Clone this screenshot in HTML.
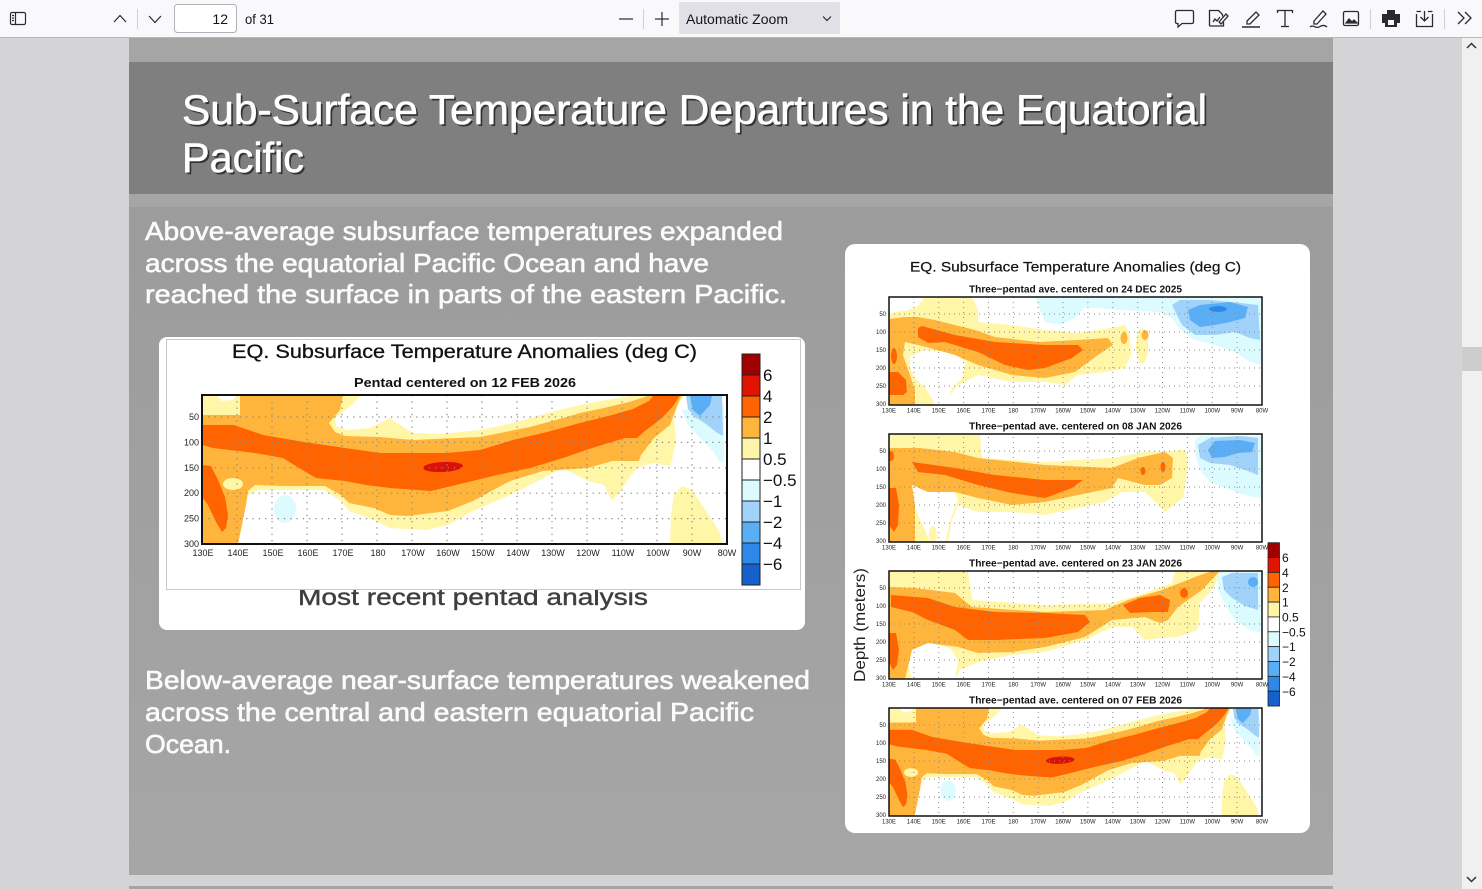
<!DOCTYPE html>
<html><head><meta charset="utf-8"><style>html,body{margin:0;padding:0;background:#d4d4d7;}svg{display:block}</style></head>
<body>
<svg width="1482" height="889" viewBox="0 0 1482 889" xmlns="http://www.w3.org/2000/svg" xmlns:xlink="http://www.w3.org/1999/xlink" font-family="Liberation Sans, sans-serif">
<defs>
<linearGradient id="body" x1="0" y1="0" x2="0" y2="1"><stop offset="0" stop-color="#999999"/><stop offset="1" stop-color="#a6a6a6"/></linearGradient>
<clipPath id="cM"><rect x="202" y="395" width="525" height="149"/></clipPath>
<clipPath id="c1"><rect x="889" y="297" width="373" height="108"/></clipPath>
<clipPath id="c2"><rect x="889" y="434" width="373" height="108"/></clipPath>
<clipPath id="c3"><rect x="889" y="571" width="373" height="108"/></clipPath>
<clipPath id="c4"><rect x="889" y="708" width="373" height="108"/></clipPath>
<g id="mf">
<path fill="#fff6a8" d="M202,395 L361,395 L352,405 L335,418 L336,426 L347,430 L370,428 L390,418 L400,425 L413,433 L440,434 L480,430 L513,423 L540,415 L563,409 L590,403 L612,399 L630,396 L637,395 L684,395 L678,405 L674,418 L676,440 L672,460 L670,466 L653,463 L637,468 L629,478 L620,492 L612,501 L604,485 L588,481 L563,468 L538,481 L510,495 L473,511 L448,525 L427,530 L390,528 L374,520 L349,511 L341,501 L324,490 L259,490 L248,495 L243,515 L238,544 L202,544 Z"/>
<path fill="#fff6a8" d="M670,544 L671,515 L674,495 L682,486 L692,490 L702,505 L712,520 L720,533 L722,544 Z"/>
<path fill="#ffb43c" d="M202,415 L240,415 L240,395 L343,395 L340,410 L329,423 L335,432 L345,436 L380,437 L413,440 L480,437 L530,427 L563,418 L580,413 L604,408 L629,402 L645,397 L649,395 L682,395 L679,401 L670,425 L654,438 L641,455 L639,461 L612,461 L588,468 L543,471 L510,481 L473,501 L448,511 L407,516 L390,515 L374,508 L349,503 L341,495 L325,486 L283,486 L255,485 L248,491 L246,505 L242,525 L238,544 L202,544 Z"/>
<ellipse cx="233" cy="484" rx="10" ry="6" fill="#fff6a8"/>
<path fill="#ff6400" d="M202,425 L234,425 L263,435 L304,442 L345,448 L380,453 L447,453 L480,450 L513,440 L547,432 L580,423 L612,415 L633,409 L649,401 L654,395 L680,395 L674,405 L662,418 L645,431 L637,438 L625,438 L592,448 L563,458 L530,468 L497,475 L456,485 L431,491 L390,488 L366,485 L345,481 L316,478 L304,471 L283,458 L255,453 L230,450 L213,448 L202,445 Z"/>
<path fill="#ff6400" d="M202,465 L211,466 L218,480 L225,497 L228,515 L226,528 L222,532 L216,522 L208,505 L202,497 Z"/>
<ellipse cx="443" cy="467" rx="20" ry="5" fill="#d81208" transform="rotate(-3 443 467)"/>
<path fill="#fff" d="M216,395 L238,395 L232,400 L222,401 Z"/>
<ellipse cx="285" cy="509" rx="11" ry="14" fill="#dcfbff"/>
<path fill="#dcfbff" d="M682,410 L688,425 L700,438 L712,450 L720,462 L724,462 L724,405 Z"/>
<path fill="#a0d2fa" d="M686,396 L722,396 L723,436 L716,432 L706,424 L695,417 L688,409 Z"/>
<path fill="#5aaef5" d="M690,396 L712,396 L710,405 L700,416 L693,410 Z"/>
</g>
</defs>

<rect width="1482" height="889" fill="#d4d4d7"/>

<rect width="1482" height="37" fill="#f9f9fb"/>
<rect y="37" width="1482" height="1" fill="#b8b8bc"/>
<g fill="none" stroke="#2b2a33" stroke-width="1.2">
<rect x="10.5" y="12.5" width="15" height="12" rx="1.5"/>
<line x1="15.5" y1="12.5" x2="15.5" y2="24.5"/>
<line x1="12" y1="15.5" x2="14" y2="15.5"/><line x1="12" y1="18" x2="14" y2="18"/><line x1="12" y1="20.5" x2="14" y2="20.5"/>
<polyline points="114,22 120,15.5 126,22"/>
<polyline points="149,16 155,22.5 161,16"/>
<line x1="619" y1="19" x2="633" y2="19"/>
<line x1="655" y1="19" x2="669" y2="19"/><line x1="662" y1="12" x2="662" y2="26"/>
</g>
<line x1="137.5" y1="9" x2="137.5" y2="29" stroke="#cfcfd8"/>
<line x1="643.5" y1="9" x2="643.5" y2="29" stroke="#cfcfd8"/>
<rect x="174.5" y="4.5" width="62" height="28" rx="3" fill="#fff" stroke="#b1b1b9"/>
<text x="228" y="24" font-size="14" fill="#15141a" text-anchor="end">12</text>
<text x="245" y="24" font-size="14" fill="#15141a" textLength="29" lengthAdjust="spacingAndGlyphs">of 31</text>
<rect x="679" y="2" width="161" height="32" rx="2" fill="#e0e0e6"/>
<text x="686" y="24" font-size="14" fill="#15141a" textLength="102" lengthAdjust="spacingAndGlyphs">Automatic Zoom</text>
<polyline points="823,16.5 827,20.5 831,16.5" fill="none" stroke="#2b2a33" stroke-width="1.2"/>
<g fill="none" stroke="#2b2a33" stroke-width="1.3">
<path d="M1177,10.5 h15 a1.5,1.5 0 0 1 1.5,1.5 v10 a1.5,1.5 0 0 1 -1.5,1.5 h-10 l-4,3.5 v-3.5 h-1 a1.5,1.5 0 0 1 -1.5,-1.5 v-10 a1.5,1.5 0 0 1 1.5,-1.5 z"/>
<path d="M1209.5,26 v-15.5 h9 l4,4 v2"/><path d="M1209.5,26 h14 v-4"/>
<path d="M1213,22 l2,-3 l2,2 l3,-4"/><path d="M1219,22 l7,-8 l2,2 l-7,8 z"/>
<path d="M1247,21 l9,-9 l3,3 l-9,9 h-3 z"/>
<line x1="1242" y1="27" x2="1260" y2="27" stroke-width="1.6"/>
<path d="M1277.5,13 v-2.5 h15 v2.5"/><line x1="1285" y1="10.5" x2="1285" y2="26.5"/><line x1="1281" y1="26.5" x2="1289" y2="26.5"/>
<path d="M1314,21 l9,-10 l3,3 l-9,10 h-3 z"/><path d="M1310,27 c3,-3 6,2 9,0 s6,-2 8,0"/>
<rect x="1343.5" y="11.5" width="15" height="14" rx="1.5"/>
<path d="M1346,23 l3,-4 l3,3 l2,-2 l3,3 z" fill="#2b2a33"/>
<path d="M1416.5,14 v12.5 h16 v-12.5"/><path d="M1421,11.5 h-4.5 M1428,11.5 h4.5"/>
<path d="M1424.5,11 v10 M1420.5,17 l4,4 l4,-4"/>
<polyline points="1458,12 1464,18 1458,24"/><polyline points="1465,12 1471,18 1465,24"/>
</g>
<path d="M1387,10 h8 v4 h5 v9 h-3 v4 h-12 v-4 h-3 v-9 h5 z" fill="#2b2a33"/>
<rect x="1388" y="20" width="6" height="5" fill="#f9f9fb"/>
<line x1="1370.5" y1="9" x2="1370.5" y2="29" stroke="#cfcfd8"/>
<line x1="1444.5" y1="9" x2="1444.5" y2="29" stroke="#cfcfd8"/>

<rect x="1462" y="38" width="20" height="851" fill="#f0f0f0"/>
<rect x="1462" y="347" width="20" height="24" fill="#cdcdcd"/>
<polyline points="1467,48 1471.5,43.5 1476,48" fill="none" stroke="#333" stroke-width="1.5"/>
<polyline points="1467,877 1471.5,881.5 1476,877" fill="none" stroke="#333" stroke-width="1.5"/>

<rect x="129" y="38" width="1204" height="837" fill="url(#body)"/>
<rect x="129" y="38" width="1204" height="24" fill="#a5a5a5"/>
<rect x="129" y="62" width="1204" height="132" fill="#7f7f7f"/>
<rect x="129" y="194" width="1204" height="13" fill="#a6a6a6"/>
<rect x="129" y="886" width="1204" height="3" fill="#a5a5a5"/>

<g font-size="42">
<text x="184" y="126" fill="#222" opacity="0.8" textLength="1025" lengthAdjust="spacingAndGlyphs">Sub-Surface Temperature Departures in the Equatorial</text>
<text x="184" y="174" fill="#222" opacity="0.8" textLength="122" lengthAdjust="spacingAndGlyphs">Pacific</text>
<text x="182" y="124" fill="#ffffff" stroke="#ffffff" stroke-width="0.6" textLength="1025" lengthAdjust="spacingAndGlyphs">Sub-Surface Temperature Departures in the Equatorial</text>
<text x="182" y="172" fill="#ffffff" stroke="#ffffff" stroke-width="0.6" textLength="122" lengthAdjust="spacingAndGlyphs">Pacific</text>
</g>

<g font-size="26" fill="#fbfbfb" stroke="#fbfbfb" stroke-width="0.6">
<text x="145" y="240" textLength="638" lengthAdjust="spacingAndGlyphs">Above-average subsurface temperatures expanded</text>
<text x="145" y="272" textLength="564" lengthAdjust="spacingAndGlyphs">across the equatorial Pacific Ocean and have</text>
<text x="145" y="303" textLength="642" lengthAdjust="spacingAndGlyphs">reached the surface in parts of the eastern Pacific.</text>
<text x="145" y="689" textLength="665" lengthAdjust="spacingAndGlyphs">Below-average near-surface temperatures weakened</text>
<text x="145" y="721" textLength="609" lengthAdjust="spacingAndGlyphs">across the central and eastern equatorial Pacific</text>
<text x="145" y="753" textLength="86" lengthAdjust="spacingAndGlyphs">Ocean.</text>
</g>

<rect x="159" y="337" width="646" height="293" rx="8" fill="#fff"/>
<text x="298" y="605" font-size="23" fill="#3f3f3f" stroke="#3f3f3f" stroke-width="0.4" textLength="350" lengthAdjust="spacingAndGlyphs">Most recent pentad analysis</text>
<rect x="166.5" y="339.5" width="634" height="250" fill="#fff" stroke="#c9c9c9"/>
<text x="232" y="358" font-size="19" fill="#111" stroke="#111" stroke-width="0.3" textLength="465" lengthAdjust="spacingAndGlyphs">EQ. Subsurface Temperature Anomalies (deg C)</text>
<text x="354" y="387" font-size="13" font-weight="bold" fill="#111" textLength="222" lengthAdjust="spacingAndGlyphs">Pentad centered on 12 FEB 2026</text>
<g clip-path="url(#cM)"><use xlink:href="#mf"/></g>
<g stroke="#8a8a8a" stroke-width="1.2" stroke-dasharray="1.3 5">
<path d="M237,395V544M272,395V544M307,395V544M342,395V544M377,395V544M412,395V544M447,395V544M482,395V544M517,395V544M552,395V544M587,395V544M622,395V544M657,395V544M692,395V544"/>
<path d="M202,417H727M202,442.4H727M202,467.8H727M202,493.2H727M202,518.6H727"/>
</g>
<rect x="202" y="395" width="525" height="149" fill="none" stroke="#111" stroke-width="2"/>
<g font-size="9" fill="#222" text-anchor="end">
<text x="199" y="420">50</text><text x="199" y="445.4">100</text><text x="199" y="470.8">150</text><text x="199" y="496.2">200</text><text x="199" y="521.6">250</text><text x="199" y="547">300</text>
</g>
<text y="556" font-size="9" fill="#222" text-anchor="middle"><tspan x="203">130E</tspan><tspan x="238">140E</tspan><tspan x="273">150E</tspan><tspan x="308">160E</tspan><tspan x="343">170E</tspan><tspan x="378">180</tspan><tspan x="413">170W</tspan><tspan x="448">160W</tspan><tspan x="483">150W</tspan><tspan x="518">140W</tspan><tspan x="553">130W</tspan><tspan x="588">120W</tspan><tspan x="623">110W</tspan><tspan x="658">100W</tspan><tspan x="692">90W</tspan><tspan x="727">80W</tspan></text>
<g stroke="#222" stroke-width="1">
<rect x="742" y="354" width="18" height="21" fill="#a00000"/>
<rect x="742" y="375" width="18" height="21" fill="#e01400"/>
<rect x="742" y="396" width="18" height="21" fill="#ff6400"/>
<rect x="742" y="417" width="18" height="21" fill="#ffb43c"/>
<rect x="742" y="438" width="18" height="21" fill="#fff5a8"/>
<rect x="742" y="459" width="18" height="21" fill="#ffffff"/>
<rect x="742" y="480" width="18" height="21" fill="#dcfbff"/>
<rect x="742" y="501" width="18" height="21" fill="#a0d2fa"/>
<rect x="742" y="522" width="18" height="21" fill="#5aaef5"/>
<rect x="742" y="543" width="18" height="21" fill="#2e88ea"/>
<rect x="742" y="564" width="18" height="21" fill="#1460cc"/>
</g>
<g font-size="17" fill="#111">
<text x="763" y="381">6</text><text x="763" y="402">4</text><text x="763" y="423">2</text><text x="763" y="444">1</text><text x="763" y="465">0.5</text><text x="763" y="486">−0.5</text><text x="763" y="507">−1</text><text x="763" y="528">−2</text><text x="763" y="549">−4</text><text x="763" y="570">−6</text>
</g>

<rect x="845" y="244" width="465" height="589" rx="10" fill="#fff"/>
<text x="910" y="271.5" font-size="14" fill="#111" stroke="#111" stroke-width="0.2" textLength="331" lengthAdjust="spacingAndGlyphs">EQ. Subsurface Temperature Anomalies (deg C)</text>
<g font-size="10" font-weight="bold" fill="#111">
<text x="969" y="292.3" textLength="213" lengthAdjust="spacingAndGlyphs">Three−pentad ave. centered on 24 DEC 2025</text>
</g>

<g clip-path="url(#c1)">
<path fill="#fff6a8" d="M889,313 L905,311 L918,306 L925,297 L972,297 L978,310 L978,322 L1011,325 L1045,330 L1078,333 L1111,328 L1125,325 L1130,335 L1131,355 L1125,368 L1105,372 L1078,375 L1065,385 L1045,382 L1012,382 L978,375 L958,385 L950,395 L945,405 L889,405 Z"/>
<ellipse cx="1142" cy="346" rx="6" ry="18" fill="#fff6a8"/>
<path fill="#fff" d="M910,356 L925,350 L950,352 L966,362 L962,378 L952,388 L946,405 L935,405 L930,395 L925,387 L915,378 L910,368 Z"/>
<path fill="#ffb43c" d="M889,319 L905,317 L918,317 L935,320 L955,325 L975,330 L995,337 L1038,342 L1078,340 L1108,338 L1113,345 L1098,355 L1075,372 L1045,378 L1012,375 L978,365 L955,355 L930,348 L918,345 L905,342 L903,355 L910,375 L915,390 L915,405 L889,405 Z"/>
<ellipse cx="1124" cy="338" rx="3.5" ry="6" fill="#ffb43c"/>
<ellipse cx="1145" cy="335" rx="3.5" ry="5" fill="#ffb43c"/>
<path fill="#ff6400" d="M918,328 L922,326 L955,335 L995,342 L1045,345 L1078,345 L1083,350 L1072,358 L1045,368 L1028,370 L1005,365 L978,352 L945,342 L928,343 L918,337 Z"/>
<path fill="#ff6400" d="M889,372 L898,372 L906,380 L907,392 L903,395 L889,395 Z"/>
<ellipse cx="894" cy="356" rx="3" ry="8" fill="#ff6400"/>
<path fill="#dcfbff" d="M1035,297 L1262,297 L1262,365 L1250,362 L1235,352 L1215,345 L1195,340 L1180,330 L1172,318 L1160,312 L1120,310 L1085,307 L1075,318 L1060,325 L1045,322 Z"/>
<path fill="#a0d2fa" d="M1172,305 L1180,300 L1210,300 L1240,303 L1258,305 L1260,340 L1250,338 L1235,332 L1215,335 L1195,335 L1182,325 Z"/>
<path fill="#5aaef5" d="M1188,310 L1200,305 L1230,302 L1248,307 L1245,318 L1230,322 L1215,325 L1200,327 L1190,320 Z"/>
<ellipse cx="1218" cy="309" rx="9" ry="3" fill="#2e88ea"/>
</g>
<g clip-path="url(#c2)">
<path fill="#fff6a8" d="M889,434 L980,434 L982,458 L1045,462 L1112,458 L1145,452 L1185,450 L1188,460 L1186,480 L1183,498 L1165,512 L1145,492 L1122,492 L1105,502 L1078,508 L1045,515 L1012,512 L978,512 L958,505 L952,520 L948,542 L889,542 Z"/>
<path fill="#fff" d="M908,485 L930,480 L950,485 L958,500 L952,515 L948,530 L945,542 L930,542 L925,530 L918,515 L912,500 Z"/>
<ellipse cx="933" cy="535" rx="4" ry="9" fill="#fff6a8"/>
<path fill="#ffb43c" d="M889,448 L920,448 L955,452 L978,458 L1045,465 L1112,468 L1138,458 L1165,452 L1173,458 L1172,478 L1160,485 L1145,485 L1118,478 L1112,488 L1078,495 L1045,502 L1012,505 L978,498 L955,492 L928,492 L912,485 L915,505 L915,542 L889,542 Z"/>
<path fill="#ff6400" d="M912,462 L955,468 L995,475 L1045,480 L1083,480 L1072,488 L1045,498 L1012,493 L978,485 L945,475 L918,472 Z"/>
<path fill="#ff6400" d="M889,488 L896,488 L899,505 L898,525 L894,532 L889,525 Z"/>
<ellipse cx="891" cy="456" rx="3" ry="5" fill="#ff6400"/>
<ellipse cx="1143" cy="471" rx="2.5" ry="4" fill="#ff6400"/>
<ellipse cx="1163" cy="467" rx="2.5" ry="5" fill="#ff6400"/>
<path fill="#dcfbff" d="M1195,440 L1200,436 L1262,436 L1262,498 L1248,496 L1230,490 L1210,482 L1200,470 L1195,455 Z"/>
<path fill="#a0d2fa" d="M1198,445 L1210,438 L1240,436 L1258,438 L1258,475 L1245,470 L1230,465 L1210,463 L1200,458 Z"/>
<path fill="#5aaef5" d="M1208,450 L1215,441 L1240,440 L1255,443 L1252,452 L1238,453 L1225,457 L1212,458 Z"/>
</g>
<g clip-path="url(#c3)">
<path fill="#fff6a8" d="M889,571 L968,571 L972,600 L1045,605 L1112,603 L1145,593 L1172,583 L1175,571 L1222,571 L1212,590 L1200,603 L1198,630 L1178,637 L1160,638 L1145,640 L1132,627 L1112,627 L1085,640 L1045,652 L1012,655 L978,662 L960,670 L955,679 L889,679 Z"/>
<path fill="#fff" d="M905,648 L925,642 L950,648 L958,660 L955,679 L912,679 L908,665 Z"/>
<path fill="#ffb43c" d="M889,587 L915,588 L955,593 L972,607 L1045,612 L1105,610 L1128,600 L1162,590 L1195,577 L1212,571 L1220,571 L1202,590 L1178,607 L1168,620 L1160,623 L1145,617 L1112,620 L1085,637 L1045,647 L1012,652 L978,653 L958,647 L928,643 L912,650 L905,679 L889,679 Z"/>
<path fill="#ff6400" d="M891,595 L928,598 L955,607 L995,612 L1045,613 L1085,615 L1090,622 L1078,632 L1045,638 L995,640 L968,640 L955,630 L928,620 L912,612 L891,607 Z"/>
<path fill="#ff6400" d="M889,633 L896,633 L899,650 L897,665 L893,670 L889,662 Z"/>
<path fill="#ff6400" d="M1123,605 L1140,598 L1160,595 L1170,600 L1168,612 L1150,612 L1130,613 Z"/>
<ellipse cx="1184" cy="593" rx="4" ry="5" fill="#ff6400"/>
<path fill="#dcfbff" d="M1218,573 L1228,571 L1262,571 L1262,633 L1250,630 L1235,620 L1225,605 L1218,590 Z"/>
<path fill="#a0d2fa" d="M1222,577 L1232,573 L1258,573 L1258,610 L1245,606 L1232,598 L1224,590 Z"/>
<ellipse cx="1253" cy="582" rx="5" ry="5" fill="#5aaef5"/>
</g>
<g clip-path="url(#c4)"><use xlink:href="#mf" transform="translate(745.48,421.7) scale(0.7105,0.7248)"/></g>

<g stroke="#8a8a8a" stroke-width="1" stroke-dasharray="1 4">
<path d="M913.9,297V816M938.7,297V816M963.6,297V816M988.5,297V816M1013.3,297V816M1038.2,297V816M1063.1,297V816M1087.9,297V816M1112.8,297V816M1137.7,297V816M1162.5,297V816M1187.4,297V816M1212.3,297V816M1237.1,297V816"/>
<path d="M889,314H1262M889,332H1262M889,350H1262M889,368H1262M889,386H1262"/>
<path d="M889,451H1262M889,469H1262M889,487H1262M889,505H1262M889,523H1262"/>
<path d="M889,588H1262M889,606H1262M889,624H1262M889,642H1262M889,660H1262"/>
<path d="M889,725H1262M889,743H1262M889,761H1262M889,779H1262M889,797H1262"/>
</g>
<rect x="885" y="405.8" width="380" height="28" fill="#fff"/>
<rect x="885" y="542.8" width="380" height="28" fill="#fff"/>
<rect x="885" y="679.8" width="380" height="28" fill="#fff"/>
<g fill="none" stroke="#111" stroke-width="1.5">
<rect x="889" y="297" width="373" height="108"/>
<rect x="889" y="434" width="373" height="108"/>
<rect x="889" y="571" width="373" height="108"/>
<rect x="889" y="708" width="373" height="108"/>
</g>
<g font-size="10" font-weight="bold" fill="#111">
<text x="969" y="429.3" textLength="213" lengthAdjust="spacingAndGlyphs">Three−pentad ave. centered on 08 JAN 2026</text>
<text x="969" y="566.3" textLength="213" lengthAdjust="spacingAndGlyphs">Three−pentad ave. centered on 23 JAN 2026</text>
<text x="969" y="703.3" textLength="213" lengthAdjust="spacingAndGlyphs">Three−pentad ave. centered on 07 FEB 2026</text>
</g>
<g font-size="6" fill="#222" text-anchor="end">
<text x="886" y="316">50</text><text x="886" y="334">100</text><text x="886" y="352">150</text><text x="886" y="370">200</text><text x="886" y="388">250</text><text x="886" y="406">300</text>
<text x="886" y="453">50</text><text x="886" y="471">100</text><text x="886" y="489">150</text><text x="886" y="507">200</text><text x="886" y="525">250</text><text x="886" y="543">300</text>
<text x="886" y="590">50</text><text x="886" y="608">100</text><text x="886" y="626">150</text><text x="886" y="644">200</text><text x="886" y="662">250</text><text x="886" y="680">300</text>
<text x="886" y="727">50</text><text x="886" y="745">100</text><text x="886" y="763">150</text><text x="886" y="781">200</text><text x="886" y="799">250</text><text x="886" y="817">300</text>
</g>
<g font-size="6" fill="#222" text-anchor="middle">
<text y="412.5"><tspan x="889">130E</tspan><tspan x="913.9">140E</tspan><tspan x="938.7">150E</tspan><tspan x="963.6">160E</tspan><tspan x="988.5">170E</tspan><tspan x="1013.3">180</tspan><tspan x="1038.2">170W</tspan><tspan x="1063.1">160W</tspan><tspan x="1087.9">150W</tspan><tspan x="1112.8">140W</tspan><tspan x="1137.7">130W</tspan><tspan x="1162.5">120W</tspan><tspan x="1187.4">110W</tspan><tspan x="1212.3">100W</tspan><tspan x="1237.1">90W</tspan><tspan x="1262">80W</tspan></text>
<text y="549.5"><tspan x="889">130E</tspan><tspan x="913.9">140E</tspan><tspan x="938.7">150E</tspan><tspan x="963.6">160E</tspan><tspan x="988.5">170E</tspan><tspan x="1013.3">180</tspan><tspan x="1038.2">170W</tspan><tspan x="1063.1">160W</tspan><tspan x="1087.9">150W</tspan><tspan x="1112.8">140W</tspan><tspan x="1137.7">130W</tspan><tspan x="1162.5">120W</tspan><tspan x="1187.4">110W</tspan><tspan x="1212.3">100W</tspan><tspan x="1237.1">90W</tspan><tspan x="1262">80W</tspan></text>
<text y="686.5"><tspan x="889">130E</tspan><tspan x="913.9">140E</tspan><tspan x="938.7">150E</tspan><tspan x="963.6">160E</tspan><tspan x="988.5">170E</tspan><tspan x="1013.3">180</tspan><tspan x="1038.2">170W</tspan><tspan x="1063.1">160W</tspan><tspan x="1087.9">150W</tspan><tspan x="1112.8">140W</tspan><tspan x="1137.7">130W</tspan><tspan x="1162.5">120W</tspan><tspan x="1187.4">110W</tspan><tspan x="1212.3">100W</tspan><tspan x="1237.1">90W</tspan><tspan x="1262">80W</tspan></text>
<text y="823.5"><tspan x="889">130E</tspan><tspan x="913.9">140E</tspan><tspan x="938.7">150E</tspan><tspan x="963.6">160E</tspan><tspan x="988.5">170E</tspan><tspan x="1013.3">180</tspan><tspan x="1038.2">170W</tspan><tspan x="1063.1">160W</tspan><tspan x="1087.9">150W</tspan><tspan x="1112.8">140W</tspan><tspan x="1137.7">130W</tspan><tspan x="1162.5">120W</tspan><tspan x="1187.4">110W</tspan><tspan x="1212.3">100W</tspan><tspan x="1237.1">90W</tspan><tspan x="1262">80W</tspan></text>
</g>
<text transform="translate(865,625) rotate(-90)" font-size="16" fill="#222" text-anchor="middle" textLength="114" lengthAdjust="spacingAndGlyphs">Depth (meters)</text>
<g stroke="#222" stroke-width="0.8">
<rect x="1268" y="542.7" width="11.5" height="14.85" fill="#a00000"/>
<rect x="1268" y="557.55" width="11.5" height="14.85" fill="#e01400"/>
<rect x="1268" y="572.4" width="11.5" height="14.85" fill="#ff6400"/>
<rect x="1268" y="587.25" width="11.5" height="14.85" fill="#ffb43c"/>
<rect x="1268" y="602.1" width="11.5" height="14.85" fill="#fff5a8"/>
<rect x="1268" y="616.95" width="11.5" height="14.85" fill="#ffffff"/>
<rect x="1268" y="631.8" width="11.5" height="14.85" fill="#dcfbff"/>
<rect x="1268" y="646.65" width="11.5" height="14.85" fill="#a0d2fa"/>
<rect x="1268" y="661.5" width="11.5" height="14.85" fill="#5aaef5"/>
<rect x="1268" y="676.35" width="11.5" height="14.85" fill="#2e88ea"/>
<rect x="1268" y="691.2" width="11.5" height="14.85" fill="#1460cc"/>
</g>
<g font-size="12" fill="#111">
<text x="1282" y="562">6</text><text x="1282" y="577">4</text><text x="1282" y="592">2</text><text x="1282" y="606.5">1</text><text x="1282" y="621.5">0.5</text><text x="1282" y="636.5">−0.5</text><text x="1282" y="651">−1</text><text x="1282" y="666">−2</text><text x="1282" y="681">−4</text><text x="1282" y="696">−6</text>
</g>
</svg>
</body></html>
